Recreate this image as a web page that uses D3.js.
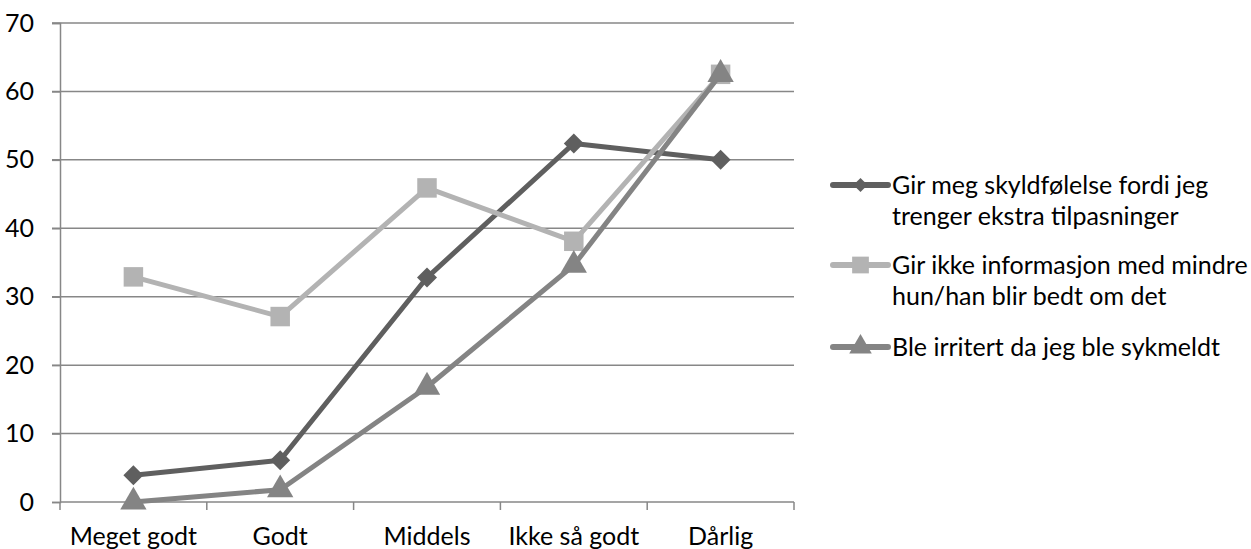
<!DOCTYPE html>
<html>
<head>
<meta charset="utf-8">
<script src="https://cdn.jsdelivr.net/npm/d3@7"></script>
<style>
  html, body { margin: 0; padding: 0; background: #ffffff; }
  svg { display: block; }
  text { font-family: Lato, "Open Sans", sans-serif; fill: #000; }
</style>
</head>
<body>
<svg id="chart" width="1251" height="549"></svg>
<script>
const categories = ["Meget godt", "Godt", "Middels", "Ikke så godt", "Dårlig"];
const seriesNames = [
  ["Gir meg skyldfølelse fordi jeg", "trenger ekstra tilpasninger"],
  ["Gir ikke informasjon med mindre", "hun/han blir bedt om det"],
  ["Ble irritert da jeg ble sykmeldt"]
];
const skyldfolelse = [3.9, 6.1, 32.8, 52.4, 50];
const ikkeInformasjon = [32.9, 27.1, 45.9, 38.1, 62.5];
const irritert = [0, 1.8, 16.8, 34.6, 62.5];
const yTicks = [0, 10, 20, 30, 40, 50, 60, 70];

const seriesValues = [skyldfolelse, ikkeInformasjon, irritert];
const colors = ["#5f5f5f", "#b3b3b3", "#848484"];
const symbols = [d3.symbolSquare, d3.symbolSquare, d3.symbolTriangle];
const rotations = [45, 0, 0];

const svg = d3.select("#chart");
const plotLeft = 60, plotRight = 794, plotTop = 23, plotBottom = 502;

const x = d3.scaleBand().domain(categories).range([plotLeft, plotRight]).paddingInner(0).paddingOuter(0);
const y = d3.scaleLinear().domain([0, 70]).range([plotBottom, plotTop]);
const gridColor = "#878787";
const fs = 25;

// gridlines
svg.append("g").selectAll("line").data(yTicks.filter(d => d > 0)).join("line")
  .attr("x1", plotLeft - 8).attr("x2", plotRight)
  .attr("y1", d => y(d)).attr("y2", d => y(d))
  .attr("stroke", gridColor).attr("stroke-width", 1.5);

// y axis
const yAxis = svg.append("g").attr("transform", `translate(${plotLeft},0)`)
  .call(d3.axisLeft(y).tickValues(yTicks).tickSize(8).tickPadding(18).tickFormat(d3.format("d")));
yAxis.select(".domain").attr("stroke", gridColor).attr("stroke-width", 1.5);
yAxis.selectAll(".tick line").attr("stroke", gridColor).attr("stroke-width", 1.5);
yAxis.selectAll("text").style("font-size", fs + "px").attr("fill", "#000").attr("font-family", "Lato");

// x axis
const xAxis = svg.append("g").attr("transform", `translate(0,${plotBottom})`)
  .call(d3.axisBottom(x).tickSize(0).tickPadding(25));
xAxis.select(".domain").attr("stroke", gridColor).attr("stroke-width", 1.5)
  .attr("d", `M${plotLeft},0H${plotRight}`);
xAxis.selectAll("text").style("font-size", fs + "px").attr("fill", "#000").attr("font-family", "Lato");
// tick marks at category boundaries
const bounds = categories.map(c => x(c)).concat([x(categories[categories.length - 1]) + x.bandwidth()]);
xAxis.append("g").selectAll("line").data(bounds).join("line")
  .attr("x1", d => d).attr("x2", d => d).attr("y1", 0).attr("y2", 8)
  .attr("stroke", gridColor).attr("stroke-width", 1.5);

const cx = c => x(c) + x.bandwidth() / 2;
const line = d3.line().x((d, i) => cx(categories[i])).y(d => y(d));

seriesValues.forEach((vals, s) => {
  const g = svg.append("g");
  g.append("path").datum(vals).attr("d", line)
    .attr("fill", "none").attr("stroke", colors[s]).attr("stroke-width", 5)
    .attr("stroke-linejoin", "round").attr("stroke-linecap", "round");
  const sizes = [200, 380, 300];
  g.selectAll("path.m").data(vals).join("path").attr("class", "m")
    .attr("transform", (d, i) => `translate(${cx(categories[i])},${y(d)}) rotate(${rotations[s]})`)
    .attr("d", d3.symbol().type(symbols[s]).size(sizes[s]))
    .attr("fill", colors[s]);
});

// legend
const legendY = [185, 265, 347];
const lgX1 = 833, lgX2 = 888, textX = 892;
seriesNames.forEach((lines, s) => {
  const g = svg.append("g");
  g.append("line").attr("x1", lgX1).attr("x2", lgX2).attr("y1", legendY[s]).attr("y2", legendY[s])
    .attr("stroke", colors[s]).attr("stroke-width", 6).attr("stroke-linecap", "round");
  const lsz = [100, 280, 220];
  g.append("path").attr("transform", `translate(${(lgX1 + lgX2) / 2},${legendY[s]}) rotate(${rotations[s]})`)
    .attr("d", d3.symbol().type(symbols[s]).size(lsz[s])).attr("fill", colors[s]);
  const t = g.append("text").attr("x", textX).attr("y", legendY[s] + 9).style("font-size", fs + "px");
  lines.forEach((l, i) => {
    t.append("tspan").attr("x", textX).attr("dy", i === 0 ? 0 : 31).text(l);
  });
});
</script>
</body>
</html>
